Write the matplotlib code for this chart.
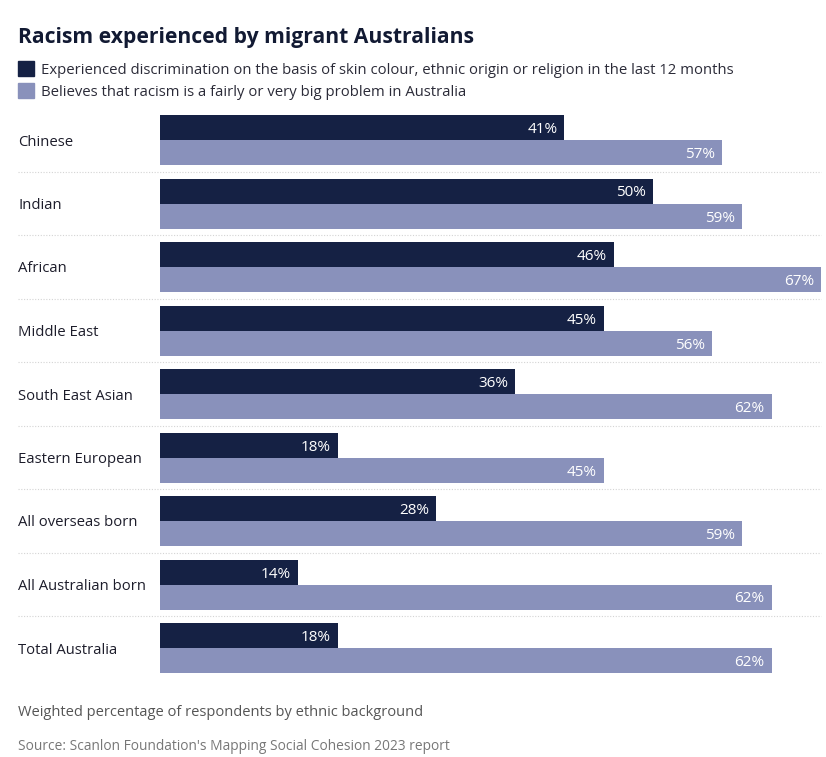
import matplotlib.pyplot as plt
from matplotlib.patches import Rectangle
from matplotlib.lines import Line2D

groups = ['Chinese', 'Indian', 'African', 'Middle East', 'South East Asian',
          'Eastern European', 'All overseas born', 'All Australian born', 'Total Australia']
experienced = [41, 50, 46, 45, 36, 18, 28, 14, 18]
believes = [57, 59, 67, 56, 62, 45, 59, 62, 62]

series_names = ['Experienced discrimination on the basis of skin colour, ethnic origin or religion in the last 12 months',
                'Believes that racism is a fairly or very big problem in Australia']
dark = '#152144'
light = '#8991bb'

plt.rcParams['font.family'] = ['Open Sans', 'DejaVu Sans']

W, H = 826, 757
fig = plt.figure(figsize=(W / 100, H / 100), dpi=100)

# axes in pixel terms: x 160..821, y 115..673
top_px, bot_px = 115, 673
ax = fig.add_axes([160 / W, 1 - bot_px / H, (821 - 160) / W, (bot_px - top_px) / H])
pitch = (623 - 115) / 8
bh = 25 / pitch

n = len(groups)
ys = list(range(n))
ax.barh([y - bh / 2 for y in ys], experienced, height=bh, color=dark, linewidth=0)
ax.barh([y + bh / 2 for y in ys], believes, height=bh, color=light, linewidth=0)
ax.set_xlim(0, 67)
ax.set_ylim(n - 1 + bh, -bh)
ax.axis('off')

for y, a, b in zip(ys, experienced, believes):
    ax.annotate(f'{a}%', (a, y - bh / 2), xytext=(-5, 0), textcoords='offset points',
                ha='right', va='center_baseline', color='white', fontsize=11)
    ax.annotate(f'{b}%', (b, y + bh / 2), xytext=(-5, 0), textcoords='offset points',
                ha='right', va='center_baseline', color='white', fontsize=11)

# row labels and dotted separators
for i, g in enumerate(groups):
    yc = 1 - (top_px + bh * pitch + i * pitch) / H
    fig.text(18 / W, yc, g, ha='left', va='center_baseline', fontsize=10.7, color='#1d1d2b')
    if i < n - 1:
        ysep = 1 - (top_px + bh * pitch + (i + 0.5) * pitch) / H
        fig.add_artist(Line2D([18 / W, 821 / W], [ysep, ysep], color='#d4d4d4',
                              linewidth=0.8, linestyle=(0, (1, 1.5))))

# title and legend
fig.text(18 / W, 1 - 35 / H, 'Racism experienced by migrant Australians', ha='left', va='center_baseline',
         fontsize=15.2, fontweight='bold', color='#121a33')
for k, (name, c) in enumerate(zip(series_names, [dark, light])):
    yc = 68.5 + k * 22
    fig.add_artist(Rectangle((18 / W, 1 - (yc + 7.5) / H), 16 / W, 15 / H, color=c,
                             transform=fig.transFigure))
    fig.text(41 / W, 1 - yc / H, name, ha='left', va='center_baseline', fontsize=10.75, color='#2b2b38')

fig.text(18 / W, 1 - 710 / H, 'Weighted percentage of respondents by ethnic background',
         ha='left', va='center_baseline', fontsize=10.5, color='#555555')
fig.text(18 / W, 1 - 744 / H, "Source: Scanlon Foundation's Mapping Social Cohesion 2023 report",
         ha='left', va='center_baseline', fontsize=9.9, color='#777777')

fig.savefig('out.png', dpi=100, facecolor='white')
